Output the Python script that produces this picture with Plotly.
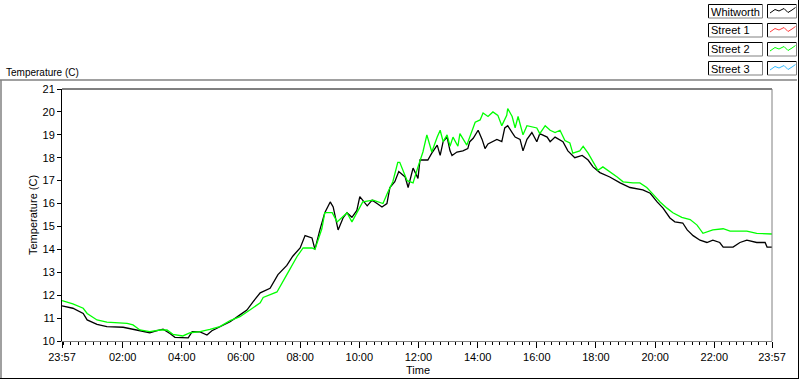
import datetime as dt
import plotly.graph_objects as go

# ---------------- data ----------------
whitworth_times = ["23:57", "00:19", "00:40", "00:48", "01:08", "01:28", "02:01", "02:21", "02:35", "02:55",
                   "03:10", "03:22", "03:36", "03:46", "04:13", "04:21", "04:37", "04:51", "05:01", "05:17",
                   "05:38", "05:58", "06:12", "06:24", "06:39", "06:59", "07:15", "07:33", "07:45", "08:00",
                   "08:10", "08:24", "08:30", "08:40", "08:50", "09:01", "09:07", "09:17", "09:27", "09:35",
                   "09:45", "09:55", "10:01", "10:16", "10:26", "10:36", "10:46", "10:56", "11:02", "11:12",
                   "11:20", "11:33", "11:39", "11:49", "11:59", "12:03", "12:19", "12:27", "12:38", "12:44",
                   "12:50", "12:58", "13:04", "13:08", "13:18", "13:30", "13:40", "13:44", "13:51", "14:01",
                   "14:09", "14:15", "14:21", "14:39", "14:49", "14:55", "15:01", "15:10", "15:16", "15:26",
                   "15:32", "15:40", "15:50", "16:00", "16:06", "16:21", "16:27", "16:37", "16:53", "17:03",
                   "17:17", "17:32", "17:44", "17:54", "18:08", "18:28", "18:49", "19:09", "19:35", "19:50",
                   "20:04", "20:16", "20:30", "20:40", "20:56", "21:05", "21:17", "21:31", "21:45", "21:57",
                   "22:11", "22:18", "22:38", "22:52", "23:06", "23:26", "23:43", "23:47", "23:57"]
whitworth_temp = [11.53, 11.43, 11.2, 10.92, 10.73, 10.63, 10.6, 10.51, 10.45, 10.36,
                  10.45, 10.52, 10.33, 10.16, 10.14, 10.41, 10.4, 10.26, 10.45, 10.63,
                  10.84, 11.14, 11.35, 11.7, 12.1, 12.3, 12.9, 13.3, 13.7, 14.06,
                  14.6, 14.5, 14.0, 14.85, 15.6, 16.07, 15.85, 14.85, 15.37, 15.6,
                  15.4, 15.7, 16.3, 15.9, 16.15, 16.0, 15.85, 16.0, 16.7, 16.95,
                  17.4, 17.16, 16.7, 17.55, 17.1, 17.9, 17.9, 18.2, 18.55, 18.1,
                  18.7, 18.9, 18.3, 18.1, 18.25, 18.3, 18.4, 18.7, 18.85, 19.2,
                  18.8, 18.4, 18.6, 18.8, 18.7, 19.3, 19.4, 19.1, 18.9, 18.8,
                  18.3, 18.8, 19.1, 18.7, 19.05, 18.9, 18.7, 18.9, 18.7, 18.3,
                  18.0, 18.1, 17.9, 17.6, 17.35, 17.16, 16.9, 16.7, 16.6, 16.45,
                  16.07, 15.8, 15.37, 15.2, 15.15, 14.85, 14.6, 14.4, 14.3, 14.4,
                  14.3, 14.1, 14.1, 14.3, 14.4, 14.3, 14.3, 14.1, 14.1]

street2_times = ["23:57", "00:19", "00:40", "00:48", "01:08", "01:28", "02:09", "02:21", "02:35", "02:55",
                 "03:16", "03:30", "03:42", "04:02", "04:17", "04:37", "04:57", "05:17", "05:38", "05:58",
                 "06:18", "06:39", "06:45", "07:13", "07:33", "07:54", "08:06", "08:24", "08:30", "08:44",
                 "08:50", "09:05", "09:15", "09:35", "09:45", "09:55", "10:07", "10:28", "10:48", "10:58",
                 "11:08", "11:18", "11:22", "11:37", "11:49", "11:59", "12:09", "12:17", "12:27", "12:38",
                 "12:44", "12:50", "12:58", "13:04", "13:10", "13:20", "13:24", "13:38", "13:44", "13:55",
                 "14:05", "14:11", "14:21", "14:31", "14:41", "14:49", "14:59", "15:01", "15:10", "15:16",
                 "15:22", "15:32", "15:40", "15:50", "16:00", "16:06", "16:17", "16:27", "16:37", "16:47",
                 "16:57", "17:07", "17:13", "17:27", "17:34", "17:44", "17:54", "18:04", "18:14", "18:28",
                 "18:43", "18:55", "19:15", "19:29", "19:43", "19:56", "20:10", "20:24", "20:36", "20:54",
                 "21:11", "21:25", "21:37", "21:57", "22:18", "22:32", "23:06", "23:26", "23:57"]
street2_temp = [11.76, 11.62, 11.43, 11.2, 10.92, 10.82, 10.77, 10.7, 10.48, 10.41,
                10.48, 10.48, 10.29, 10.22, 10.36, 10.41, 10.51, 10.63, 10.89, 11.06,
                11.35, 11.67, 11.9, 12.14, 12.9, 13.7, 14.06, 14.06, 14.0, 14.9,
                15.6, 15.6, 15.2, 15.6, 15.2, 15.6, 16.07, 16.15, 16.0, 16.5,
                16.95, 17.8, 17.8, 17.0, 16.9, 17.6, 18.25, 19.0, 18.25, 18.9,
                19.2, 18.7, 19.0, 18.5, 18.9, 18.5, 19.05, 18.55, 18.9, 19.55,
                19.65, 19.95, 19.8, 20.0, 19.85, 19.4, 19.85, 20.15, 19.8, 19.3,
                19.8, 19.0, 19.4, 19.35, 19.3, 19.05, 19.4, 19.2, 19.1, 19.2,
                18.75, 18.65, 18.2, 18.3, 18.5, 18.2, 17.8, 17.45, 17.6, 17.4,
                17.16, 16.95, 16.9, 16.9, 16.7, 16.4, 16.07, 15.8, 15.6, 15.4,
                15.3, 15.06, 14.7, 14.85, 14.9, 14.8, 14.8, 14.7, 14.67]

legend_names = ["Whitworth", "Street 1", "Street 2", "Street 3"]
legend_colors = ["#000000", "#ff3c3c", "#00ff00", "#33bbff"]

major_tick_labels = ["23:57", "02:00", "04:00", "06:00", "08:00", "10:00", "12:00",
                     "14:00", "16:00", "18:00", "20:00", "22:00", "23:57"]
y_range = [10, 21]

# ---------------- helpers ----------------
START_DAY = dt.date(2024, 1, 1)


def to_datetimes(clock_list):
    out, day, prev = [], 0, None
    for i, s in enumerate(clock_list):
        h, m = map(int, s.split(":"))
        t = h * 60 + m
        if prev is not None and t <= prev and i > 0:
            day += 1
        prev = t
        out.append(dt.datetime.combine(START_DAY, dt.time(0, 0)) + dt.timedelta(days=day, minutes=t))
    return out


# plot area in pixels
W, H = 800, 380
L, R, T, B = 62, 772, 89, 341


def px(x):
    return (x - L) / (R - L)


def py(y):
    return (B - y) / (B - T)


FONT = "Liberation Sans, Arial, sans-serif"
GREY = "#808080"

tickdts = to_datetimes(major_tick_labels)
xr = [tickdts[0], tickdts[-1]]
midnight = dt.datetime.combine(START_DAY, dt.time(0, 0)) + dt.timedelta(days=1)

fig = go.Figure()
# empty helper trace so the minor-tick axis (x2) gets drawn
fig.add_trace(go.Scatter(x=xr, y=[None, None], xaxis="x2", yaxis="y", mode="lines",
                         showlegend=False, hoverinfo="skip"))
fig.add_trace(go.Scatter(x=to_datetimes(whitworth_times), y=whitworth_temp, mode="lines",
                         line=dict(color=legend_colors[0], width=1.3), name=legend_names[0]))
fig.add_trace(go.Scatter(x=to_datetimes(street2_times), y=street2_temp, mode="lines",
                         line=dict(color=legend_colors[2], width=1.3), name=legend_names[2]))

fig.update_layout(
    width=W, height=H, autosize=False,
    margin=dict(l=L, r=W - R, t=T, b=H - B, pad=0),
    paper_bgcolor="white", plot_bgcolor="white",
    showlegend=False,
    font=dict(family=FONT, size=11, color="black"),
    xaxis=dict(
        type="date", range=xr, tickmode="array", tickvals=tickdts, ticktext=major_tick_labels,
        ticks="outside", ticklen=6, tickwidth=1, tickcolor="black",
        showline=True, linecolor=GREY, linewidth=1, showgrid=False, zeroline=False,
        tickfont=dict(size=11, family=FONT),
    ),
    # secondary x axis only used to draw 15-minute minor ticks
    xaxis2=dict(
        type="date", range=xr, overlaying="x", anchor="y", side="bottom",
        tickmode="linear", tick0=midnight, dtick=15 * 60 * 1000,
        ticks="outside", ticklen=3, tickwidth=1, tickcolor="black",
        showticklabels=False, showline=False, showgrid=False, zeroline=False,
    ),
    yaxis=dict(
        range=y_range, dtick=1, ticks="outside", ticklen=4, tickwidth=1, tickcolor="black",
        showline=True, linecolor="black", linewidth=1, showgrid=False, zeroline=False,
        tickfont=dict(size=11, family=FONT),
    ),
)

shapes = []
# plot-area top (black) and right (grey) borders
shapes.append(dict(type="line", xref="paper", yref="paper", x0=0, x1=1, y0=1, y1=1,
                   line=dict(color="black", width=1)))
shapes.append(dict(type="line", xref="paper", yref="paper", x0=1, x1=1, y0=0, y1=1,
                   line=dict(color=GREY, width=1)))
# outer panel frame
shapes.append(dict(type="line", xref="paper", yref="paper", x0=px(0), x1=px(797), y0=py(80), y1=py(80),
                   line=dict(color=GREY, width=1.5)))
shapes.append(dict(type="line", xref="paper", yref="paper", x0=px(1), x1=px(1), y0=py(80), y1=py(379),
                   line=dict(color=GREY, width=1.5)))
shapes.append(dict(type="line", xref="paper", yref="paper", x0=px(798.5), x1=px(798.5), y0=py(0), y1=py(379),
                   line=dict(color="black", width=1)))
shapes.append(dict(type="line", xref="paper", yref="paper", x0=px(0), x1=px(799), y0=py(378.5), y1=py(378.5),
                   line=dict(color="black", width=1)))


def inset_box(x0, y0, x1, y1):
    # black top/left, grey bottom/right
    return [
        dict(type="path", xref="paper", yref="paper",
             path=f"M {px(x0)},{py(y1)} L {px(x0)},{py(y0)} L {px(x1)},{py(y0)}",
             line=dict(color="black", width=1)),
        dict(type="path", xref="paper", yref="paper",
             path=f"M {px(x1)},{py(y0)} L {px(x1)},{py(y1)} L {px(x0)},{py(y1)}",
             line=dict(color=GREY, width=1)),
    ]


annotations = []
row_tops = [4, 23, 42, 61]
zig = [(770, 9), (775, 5.5), (779, 7), (784, 4.5), (788, 8.5), (792, 6), (795.5, 3.5)]
for name, col, top in zip(legend_names, legend_colors, row_tops):
    shapes += inset_box(708.5, top + 0.5, 762.5, top + 14)
    shapes += inset_box(767.5, top + 0.5, 796.5, top + 14)
    path = "M " + " L ".join(f"{px(x)},{py(top + dy)}" for x, dy in zig)
    shapes.append(dict(type="path", xref="paper", yref="paper", path=path,
                       line=dict(color=col, width=1)))
    annotations.append(dict(text=name, xref="paper", yref="paper", x=px(709), y=py(top + 7.5),
                            xanchor="left", yanchor="middle", showarrow=False,
                            font=dict(size=11, family=FONT, color="black")))

annotations.append(dict(text="Temperature (C)", xref="paper", yref="paper", x=px(4), y=py(72),
                        xanchor="left", yanchor="middle", showarrow=False,
                        font=dict(size=10, family=FONT)))
annotations.append(dict(text="Temperature (C)", xref="paper", yref="paper", x=px(33), y=0.5,
                        xanchor="center", yanchor="middle", textangle=-90, showarrow=False,
                        font=dict(size=11, family=FONT)))
annotations.append(dict(text="Time", xref="paper", yref="paper", x=px(418), y=py(370),
                        xanchor="center", yanchor="middle", showarrow=False,
                        font=dict(size=11, family=FONT)))

fig.update_layout(shapes=shapes, annotations=annotations)
fig.write_html("out.html", config={"displayModeBar": False},
               post_script="document.body.style.margin='0';document.body.style.overflow='hidden';")
